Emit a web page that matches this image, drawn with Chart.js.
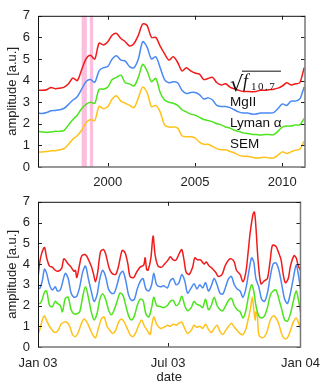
<!DOCTYPE html>
<html lang="en">
<head>
  <meta charset="UTF-8" />
  <title>Solar activity proxies</title>
  <script src="https://cdn.jsdelivr.net/npm/chart.js@4.4.1/dist/chart.umd.min.js"></script>
  <style>
    body { margin: 0; background: #fff; }
    canvas { position: absolute; left: 0; display: block; }
  </style>
</head>
<body>
<canvas id="longChart" width="329" height="186" style="top:0"></canvas>
<canvas id="yearChart" width="329" height="205" style="top:186px"></canvas>
<script>
    // ---- top panel: 1996 - 2011, quarter-year samples ----
    const years = [
      1996.00, 1996.25, 1996.50, 1996.75, 1997.00, 1997.25, 1997.50, 1997.75,
      1998.00, 1998.25, 1998.50, 1998.75, 1999.00, 1999.25, 1999.50, 1999.75,
      2000.00, 2000.25, 2000.50, 2000.75, 2001.00, 2001.25, 2001.50, 2001.75,
      2002.00, 2002.25, 2002.50, 2002.75, 2003.00, 2003.25, 2003.50, 2003.75,
      2004.00, 2004.25, 2004.50, 2004.75, 2005.00, 2005.25, 2005.50, 2005.75,
      2006.00, 2006.25, 2006.50, 2006.75, 2007.00, 2007.25, 2007.50, 2007.75,
      2008.00, 2008.25, 2008.50, 2008.75, 2009.00, 2009.25, 2009.50, 2009.75,
      2010.00, 2010.25, 2010.50, 2010.75, 2011.00, 2011.25
    ];
    const f107Long = [
      3.55, 3.55, 3.58, 3.68, 3.62, 3.65, 3.70, 3.85, 4.12, 4.00, 4.50, 5.00,
      5.17, 5.00, 5.73, 5.65, 5.80, 6.10, 6.18, 5.95, 5.80, 5.60, 5.72, 6.10,
      6.62, 6.55, 6.00, 6.00, 5.60, 5.25, 4.95, 5.10, 4.85, 4.45, 4.60, 4.45,
      4.35, 4.30, 4.05, 4.10, 4.15, 3.90, 3.80, 3.85, 3.70, 3.62, 3.55, 3.50,
      3.50, 3.48, 3.50, 3.55, 3.55, 3.58, 3.60, 3.65, 3.75, 3.90, 3.80, 3.85,
      3.90, 4.60
    ];
    const mgLong = [
      2.50, 2.48, 2.52, 2.60, 2.62, 2.65, 2.72, 2.90, 3.10, 3.25, 3.60, 3.95,
      4.05, 3.92, 4.45, 4.60, 4.65, 5.00, 5.15, 4.95, 4.90, 4.65, 4.60, 5.00,
      5.80, 5.55, 5.00, 5.10, 4.60, 4.05, 3.90, 3.95, 3.90, 3.55, 3.40, 3.45,
      3.45, 3.35, 3.15, 3.20, 3.10, 2.85, 2.80, 2.80, 2.75, 2.65, 2.55, 2.50,
      2.50, 2.45, 2.45, 2.50, 2.50, 2.50, 2.52, 2.70, 2.92, 2.85, 3.05, 3.05,
      3.15, 3.70
    ];
    const lyaLong = [
      1.65, 1.62, 1.60, 1.62, 1.65, 1.65, 1.70, 1.95, 2.20, 2.40, 2.70, 2.90,
      3.00, 2.95, 3.60, 3.60, 3.70, 4.05, 4.15, 4.25, 3.90, 3.85, 3.75, 4.15,
      4.75, 4.45, 3.95, 4.10, 3.45, 3.10, 3.00, 2.95, 2.85, 2.65, 2.55, 2.45,
      2.40, 2.30, 2.20, 2.15, 2.10, 2.00, 1.95, 1.85, 1.80, 1.70, 1.65, 1.58,
      1.55, 1.52, 1.50, 1.48, 1.50, 1.50, 1.50, 1.65, 1.85, 1.90, 1.90, 1.95,
      1.95, 2.25
    ];
    const semLong = [
      0.70, 0.70, 0.72, 0.75, 0.75, 0.80, 0.85, 1.05, 1.30, 1.45, 1.70, 2.05,
      2.20, 2.15, 2.80, 2.70, 2.80, 3.15, 3.30, 3.05, 2.95, 2.85, 2.75, 3.20,
      3.70, 3.45, 2.80, 2.85, 2.55, 1.95, 1.85, 1.85, 1.80, 1.45, 1.40, 1.40,
      1.35, 1.15, 1.05, 1.05, 0.95, 0.85, 0.80, 0.80, 0.72, 0.65, 0.55, 0.50,
      0.50, 0.45, 0.42, 0.43, 0.45, 0.42, 0.42, 0.55, 0.70, 0.62, 0.70, 0.78,
      0.82, 1.20
    ];
    const yearTicks = [2000, 2005, 2010];
    // shaded intervals (start, end) in years
    const bandStarts = [1998.5, 1998.97];
    const bandEnds = [1998.8, 1999.16];

    // ---- bottom panel: 2003, day of year ----
    const f107Days = [0, 2, 5, 9, 12, 16, 20, 24, 28, 33, 36, 42, 46, 50, 52, 54, 58, 61, 66, 69, 74, 77, 80,
      83, 87, 91, 94, 99, 103, 108, 112, 117, 121, 125, 128, 133, 137, 142, 147, 149, 151, 153, 157, 160,
      163, 167, 172, 176, 181, 184, 188, 192, 197, 200, 203, 206, 210, 215, 218, 222, 226, 231, 234, 238,
      242, 247, 251, 256, 260, 265, 269, 273, 276, 281, 285, 289, 292, 295, 299, 301, 303, 306, 310, 315,
      319, 323, 326, 331, 334, 338, 341, 344, 348, 351, 356, 359, 362, 365];
    const f107Year = [3.3, 4.0, 4.5, 4.8, 4.3, 3.9, 3.85, 3.7, 3.65, 3.8, 4.25, 4.0, 3.85, 3.65, 3.7, 3.35,
      4.0, 4.4, 4.45, 4.3, 3.9, 3.55, 3.15, 3.6, 4.6, 4.7, 4.5, 3.8, 3.55, 3.5, 3.9, 4.65, 4.55, 4.0, 3.4,
      3.35, 3.6, 3.85, 3.95, 4.3, 3.75, 3.7, 4.3, 5.35, 4.4, 3.9, 3.85, 4.0, 4.2, 4.35, 4.2, 4.2, 4.55, 4.7,
      4.2, 3.6, 3.5, 3.85, 4.3, 4.2, 4.2, 4.0, 4.1, 3.9, 3.8, 3.6, 3.4, 3.5, 3.9, 4.2, 4.25, 4.1, 3.7, 3.5,
      3.15, 3.6, 4.5, 5.5, 6.4, 6.5, 5.8, 4.2, 3.05, 3.2, 3.3, 4.2, 4.9, 4.85, 4.6, 4.2, 3.5, 3.1, 3.3, 3.9,
      4.4, 4.3, 3.9, 3.7];
    const midDays = [0, 3, 6, 9, 12, 16, 20, 24, 27, 31, 34, 38, 42, 46, 50, 54, 58, 62, 66, 70, 74, 78, 82,
      86, 90, 94, 98, 102, 106, 110, 114, 118, 122, 126, 130, 134, 138, 142, 146, 150, 154, 158, 161, 165,
      170, 175, 180, 184, 188, 192, 196, 200, 204, 208, 213, 217, 221, 225, 229, 233, 237, 241, 245, 249,
      253, 257, 261, 265, 269, 273, 277, 281, 285, 289, 293, 297, 300, 303, 307, 311, 315, 319, 323, 327,
      331, 335, 339, 343, 347, 351, 355, 359, 362, 365];
    const mgYear = [2.8, 2.85, 3.2, 3.75, 3.55, 3.0, 2.75, 2.9, 2.7, 2.75, 3.1, 3.55, 3.3, 2.6, 2.4, 2.45,
      2.9, 3.6, 3.9, 3.3, 2.7, 2.2, 2.5, 3.3, 3.7, 3.4, 2.8, 2.6, 2.6, 3.0, 3.5, 3.65, 3.2, 2.5, 2.25, 2.3,
      2.8, 3.15, 3.3, 2.8, 2.7, 3.0, 3.55, 3.0, 2.9, 2.95, 2.85, 3.2, 3.3, 3.0, 3.1, 3.5, 3.2, 2.6, 2.85,
      3.05, 2.8, 3.0, 2.85, 3.1, 2.7, 2.95, 3.3, 3.0, 2.6, 2.55, 2.9, 3.3, 3.4, 3.0, 2.8, 2.7, 2.4, 2.8, 3.6,
      4.3, 4.1, 3.3, 2.9, 2.3, 2.2, 2.6, 3.4, 4.0, 4.05, 3.7, 3.0, 2.3, 2.1, 2.6, 3.3, 3.95, 3.5, 2.8];
    const lyaYear = [2.1, 2.1, 2.3, 2.65, 2.7, 2.0, 1.95, 2.2, 2.1, 2.0, 1.7, 2.35, 2.4, 1.8, 1.6, 1.6, 1.7,
      2.4, 2.9, 2.4, 1.7, 1.3, 1.6, 2.3, 2.55, 2.3, 1.8, 1.55, 1.8, 2.2, 2.6, 2.5, 2.0, 1.5, 1.3, 1.5, 2.0,
      2.3, 2.25, 1.6, 1.45, 1.9, 2.4, 2.0, 1.95, 1.9, 2.0, 2.2, 2.25, 2.0, 2.1, 2.45, 2.0, 1.75, 1.9, 2.2,
      2.05, 2.0, 1.9, 2.3, 1.8, 2.0, 2.4, 2.0, 1.8, 1.75, 2.0, 2.25, 2.35, 2.0, 1.8, 1.7, 1.4, 1.75, 2.5,
      3.0, 2.7, 2.0, 1.5, 1.4, 1.5, 1.9, 2.5, 2.7, 2.75, 2.3, 1.8, 1.3, 1.25, 1.6, 2.2, 2.7, 2.3, 1.7];
    const semDays = [0, 3, 6, 9, 13, 16, 20, 24, 28, 32, 36, 40, 44, 48, 52, 56, 60, 64, 68, 72, 76, 80, 84,
      88, 92, 96, 100, 104, 108, 112, 116, 120, 124, 128, 132, 136, 140, 144, 148, 152, 156, 158, 161, 165,
      170, 175, 180, 184, 188, 192, 196, 200, 204, 208, 213, 217, 221, 225, 229, 233, 237, 241, 245, 249,
      253, 257, 261, 265, 269, 273, 277, 281, 285, 289, 292, 295, 298, 300, 302, 303, 305, 307, 311, 315,
      319, 323, 327, 331, 335, 339, 343, 347, 351, 355, 359, 362, 365];
    const semYear = [0.6, 0.9, 1.3, 1.5, 1.2, 1.0, 0.8, 0.7, 0.8, 1.1, 1.2, 1.2, 1.0, 0.6, 0.5, 0.7, 1.1,
      1.35, 1.2, 0.9, 0.6, 0.45, 0.9, 1.35, 1.45, 1.0, 0.8, 0.65, 0.8, 1.2, 1.35, 1.2, 0.9, 0.6, 0.5, 0.7,
      1.05, 1.3, 1.0, 0.8, 0.6, 1.0, 1.45, 1.1, 0.9, 0.95, 1.05, 1.0, 1.1, 1.05, 1.15, 1.2, 0.9, 0.65, 0.8,
      1.05, 0.95, 1.0, 0.9, 1.1, 0.85, 0.7, 0.9, 1.05, 0.75, 0.6, 0.8, 1.0, 1.15, 0.95, 0.8, 0.65, 0.6, 0.85,
      1.3, 1.75, 2.4, 1.8, 1.3, 1.7, 1.5, 0.6, 0.45, 0.5, 0.8, 1.3, 1.5, 1.4, 1.1, 0.6, 0.4, 0.45, 0.8, 1.2,
      1.4, 1.2, 0.9];
    const dateTicks = [0, 181, 365];
    const dateTickLabels = ["Jan 03", "Jul 03", "Jan 04"];

    const seriesNames = ["√f10.7", "MgII", "Lyman α", "SEM"];
    const colors = ["#f01c1c", "#4a8af2", "#4ce41c", "#ffc21a"];
    const font = { family: "'Liberation Sans', Arial, sans-serif", size: 13 };

    function pairs(xs, ys) {
      return ys.map((y, i) => ({ x: xs[i], y: y }));
    }

    function makeSets(list) {
      return list.map((s, i) => ({
        label: seriesNames[i],
        data: s,
        borderColor: colors[i],
        borderWidth: 1.5,
        pointRadius: 0,
        tension: 0.3,
        fill: false,
      }));
    }

    // box frame + inward tick marks on all four sides
    const frameTicks = {
      id: "frameTicks",
      afterDatasetsDraw(chart) {
        const { ctx, chartArea: a, scales } = chart;
        ctx.save();
        ctx.lineWidth = 1;
        ctx.strokeStyle = "#222";
        scales.y.ticks.forEach((t) => {
          const py = Math.round(scales.y.getPixelForValue(t.value)) + 0.5;
          ctx.beginPath();
          ctx.moveTo(a.left, py); ctx.lineTo(a.left + 4, py);
          ctx.moveTo(a.right, py); ctx.lineTo(a.right - 4, py);
          ctx.stroke();
        });
        scales.x.ticks.forEach((t) => {
          const px = Math.round(scales.x.getPixelForValue(t.value)) + 0.5;
          ctx.beginPath();
          ctx.moveTo(px, a.bottom); ctx.lineTo(px, a.bottom - 4);
          ctx.moveTo(px, a.top); ctx.lineTo(px, a.top + 4);
          ctx.stroke();
        });
        ctx.strokeStyle = "#777";
        ctx.lineWidth = 1.5;
        ctx.beginPath();
        ctx.moveTo(a.right, a.top); ctx.lineTo(a.right, a.bottom); ctx.lineTo(a.left, a.bottom);
        ctx.stroke();
        ctx.strokeStyle = "#111";
        ctx.lineWidth = 1;
        ctx.beginPath();
        ctx.moveTo(a.left + 0.5, a.bottom); ctx.lineTo(a.left + 0.5, a.top + 0.5); ctx.lineTo(a.right, a.top + 0.5);
        ctx.stroke();
        ctx.restore();
      },
    };

    const bands = {
      id: "bands",
      beforeDatasetsDraw(chart, args, opts) {
        if (!opts.starts) return;
        const { ctx, chartArea: a, scales } = chart;
        ctx.save();
        ctx.fillStyle = "rgba(248, 170, 212, 0.75)";
        opts.starts.forEach((s, i) => {
          const x0 = scales.x.getPixelForValue(s);
          const x1 = scales.x.getPixelForValue(opts.ends[i]);
          ctx.fillRect(x0, a.top, x1 - x0, a.bottom - a.top);
        });
        ctx.restore();
      },
    };

    // series names written next to the curves
    const curveLabels = {
      id: "curveLabels",
      afterDatasetsDraw(chart, args, opts) {
        if (!opts.at) return;
        const { ctx, scales } = chart;
        ctx.save();
        ctx.fillStyle = "#111";
        ctx.textBaseline = "middle";
        opts.at.forEach((p, i) => {
          const px = scales.x.getPixelForValue(p[0]);
          const py = scales.y.getPixelForValue(p[1]);
          if (i === 0) {
            // sqrt(f_10.7) in TeX style
            ctx.font = "21px 'DejaVu Serif', serif";
            ctx.textBaseline = "alphabetic";
            ctx.fillText("√", px, py + 9);
            ctx.lineWidth = 1;
            ctx.strokeStyle = "#111";
            ctx.beginPath();
            ctx.moveTo(px + 12, py - 10.5);
            ctx.lineTo(px + 51, py - 10.5);
            ctx.stroke();
            ctx.font = "italic 18px 'Liberation Serif', serif";
            ctx.fillText("f", px + 13, py + 5);
            ctx.font = "11px 'Liberation Serif', serif";
            ctx.letterSpacing = "1.5px";
            ctx.fillText("10.7", px + 21, py + 8);
            ctx.letterSpacing = "0px";
            ctx.textBaseline = "middle";
          } else {
            ctx.font = "13.5px 'Liberation Sans', Arial, sans-serif";
            ctx.fillText(seriesNames[i], px, py);
          }
        });
        ctx.restore();
      },
    };

    function yScale(width) {
      return {
        min: 0, max: 7,
        grid: { display: false, drawTicks: false },
        border: { display: false },
        ticks: { stepSize: 1, font: font, color: "#222", padding: 8 },
        title: { display: true, text: "amplitude [a.u.]", font: font, color: "#222", padding: 5 },
        afterFit(scale) { scale.width = width; },
      };
    }

    const longConfig = {
      type: "line",
      data: { datasets: makeSets([pairs(years, f107Long), pairs(years, mgLong), pairs(years, lyaLong), pairs(years, semLong)]) },
      options: {
        responsive: false,
        animation: false,
        layout: { padding: { top: 11, right: 24, left: 0, bottom: 0 } },
        plugins: {
          legend: { display: false },
          tooltip: { enabled: false },
          bands: { starts: bandStarts, ends: bandEnds },
          curveLabels: { at: [[2007.0, 3.95], [2007.0, 3.0], [2007.0, 2.02], [2007.0, 1.03]] },
        },
        scales: {
          x: {
            type: "linear",
            min: 1996.0, max: 2011.3,
            grid: { display: false, drawTicks: false },
            border: { display: false },
            afterBuildTicks(scale) { scale.ticks = yearTicks.map((v) => ({ value: v })); },
            ticks: { font: font, color: "#222", padding: 8, maxRotation: 0, callback: (v) => String(v) },
            afterFit(scale) { scale.height = 19; },
          },
          y: yScale(38),
        },
      },
      plugins: [bands, frameTicks, curveLabels],
    };

    const yearConfig = {
      type: "line",
      data: { datasets: makeSets([pairs(f107Days, f107Year), pairs(midDays, mgYear), pairs(midDays, lyaYear), pairs(semDays, semYear)]) },
      options: {
        responsive: false,
        animation: false,
        layout: { padding: { top: 5, right: 24, left: 0, bottom: 0 } },
        plugins: { legend: { display: false }, tooltip: { enabled: false } },
        scales: {
          x: {
            type: "linear",
            min: 0, max: 365,
            grid: { display: false, drawTicks: false },
            border: { display: false },
            afterBuildTicks(scale) { scale.ticks = dateTicks.map((v) => ({ value: v })); },
            ticks: {
              font: font, color: "#222", padding: 9, maxRotation: 0,
              callback: (v) => dateTickLabels[dateTicks.indexOf(v)],
            },
            title: { display: true, text: "date", font: font, color: "#222", padding: { top: 0, bottom: 6 } },
            afterFit(scale) { scale.height = 44; },
          },
          y: yScale(38),
        },
      },
      plugins: [frameTicks],
    };

    new Chart(document.getElementById("longChart"), longConfig);
    new Chart(document.getElementById("yearChart"), yearConfig);
</script>
</body>
</html>
